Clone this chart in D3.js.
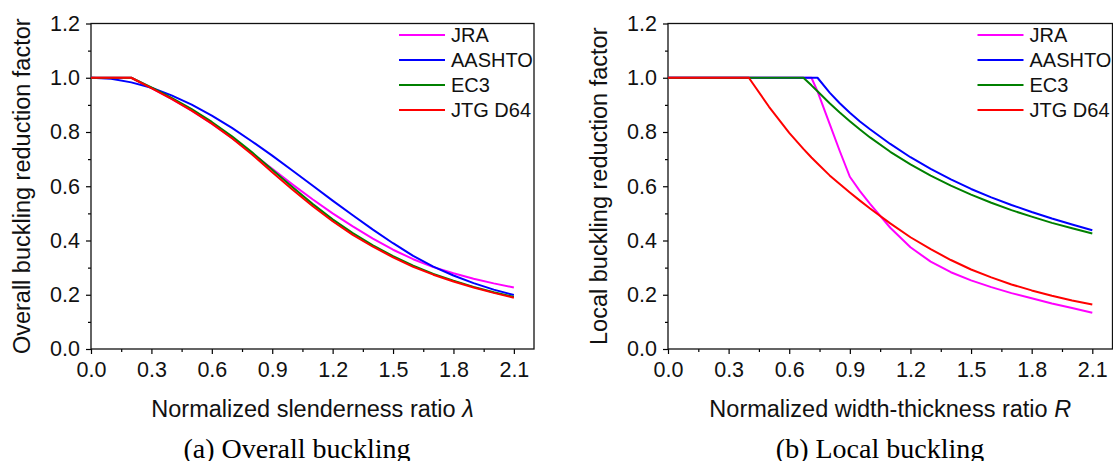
<!DOCTYPE html>
<html>
<head>
<meta charset="utf-8">
<script src="https://cdn.jsdelivr.net/npm/d3@7"></script>
<style>
  html, body { margin: 0; padding: 0; background: #fff; }
  svg { display: block; font-family: "Liberation Sans", Arial, sans-serif; }
</style>
</head>
<body>
<svg id="chart" width="1113" height="461"></svg>
<script>
const seriesNames = ['JRA', 'AASHTO', 'EC3', 'JTG D64'];
const seriesColors = ['#ff00ff', '#0000ff', '#008000', '#ff0000'];

const xTickValues = [0, 0.3, 0.6, 0.9, 1.2, 1.5, 1.8, 2.1];
const yTickValues = [0, 0.2, 0.4, 0.6, 0.8, 1.0, 1.2];

// (a) overall buckling
const lambdaValues = [0, 0.1, 0.2, 0.3, 0.4, 0.5, 0.6, 0.7, 0.8, 0.9, 1.0,
  1.1, 1.2, 1.3, 1.4, 1.5, 1.6, 1.7, 1.8, 1.9, 2.0, 2.1];
const overallJRA = [1, 1, 1, 0.962, 0.922, 0.879, 0.831, 0.778, 0.722, 0.664, 0.607,
  0.552, 0.500, 0.452, 0.407, 0.366, 0.331, 0.302, 0.279, 0.259, 0.242, 0.227];
const overallAASHTO = [1, 0.996, 0.983, 0.963, 0.935, 0.901, 0.860, 0.815, 0.765, 0.713, 0.658,
  0.603, 0.547, 0.493, 0.440, 0.390, 0.343, 0.304, 0.271, 0.243, 0.219, 0.199];
const overallEC3 = [1, 1, 1, 0.964, 0.926, 0.884, 0.837, 0.784, 0.725, 0.661, 0.597,
  0.535, 0.478, 0.427, 0.382, 0.342, 0.307, 0.277, 0.252, 0.229, 0.209, 0.192];
const overallJTG = [1, 1, 1, 0.962, 0.922, 0.879, 0.831, 0.777, 0.717, 0.652, 0.588,
  0.527, 0.471, 0.421, 0.377, 0.338, 0.303, 0.274, 0.249, 0.227, 0.207, 0.189];

// (b) local buckling
const ratioValues = [0, 0.1, 0.2, 0.3, 0.4, 0.5, 0.6, 0.67, 0.71, 0.74, 0.8, 0.85, 0.9, 0.95, 1.0,
  1.1, 1.2, 1.3, 1.4, 1.5, 1.6, 1.7, 1.8, 1.9, 2.0, 2.1];
const localJRA = [1, 1, 1, 1, 1, 1, 1, 1, 1, 0.95, 0.83, 0.73, 0.635, 0.582, 0.535,
  0.447, 0.375, 0.322, 0.283, 0.253, 0.228, 0.206, 0.187, 0.168, 0.151, 0.134];
const localAASHTO = [1, 1, 1, 1, 1, 1, 1, 1, 1, 1, 0.945, 0.906, 0.871, 0.839, 0.810,
  0.756, 0.707, 0.664, 0.625, 0.590, 0.559, 0.531, 0.505, 0.481, 0.459, 0.438];
const localEC3 = [1, 1, 1, 1, 1, 1, 1, 1, 0.972, 0.950, 0.906, 0.872, 0.840, 0.809, 0.780,
  0.727, 0.681, 0.639, 0.602, 0.569, 0.539, 0.512, 0.488, 0.465, 0.445, 0.426];
const localJTG = [1, 1, 1, 1, 1, 0.893, 0.797, 0.738, 0.706, 0.684, 0.640, 0.608, 0.577, 0.547, 0.518,
  0.463, 0.412, 0.368, 0.328, 0.293, 0.264, 0.238, 0.216, 0.196, 0.179, 0.164];

const svg = d3.select('#chart');

function drawPanel(p) {
  const x = d3.scaleLinear().domain([0, 2.2]).range([p.left, p.right]);
  const y = d3.scaleLinear().domain([0, 1.2]).range([p.bottom, p.top]);
  const g = svg.append('g');

  // minor ticks
  g.append('g')
    .attr('transform', `translate(0,${p.bottom})`)
    .call(d3.axisBottom(x).tickValues(d3.range(0.15, 2.2, 0.3)).tickSize(3).tickFormat(''))
    .call(a => a.select('.domain').remove());
  g.append('g')
    .attr('transform', `translate(${p.left},0)`)
    .call(d3.axisLeft(y).tickValues(d3.range(0.1, 1.2, 0.2)).tickSize(3).tickFormat(''))
    .call(a => a.select('.domain').remove());

  // major ticks + labels
  const xAxis = g.append('g')
    .attr('transform', `translate(0,${p.bottom})`)
    .call(d3.axisBottom(x).tickValues(xTickValues).tickSize(5).tickPadding(8).tickFormat(d3.format('.1f')));
  xAxis.select('.domain').remove();
  xAxis.selectAll('text').attr('font-size', 21.5).attr('fill', '#111');

  const yAxis = g.append('g')
    .attr('transform', `translate(${p.left},0)`)
    .call(d3.axisLeft(y).tickValues(yTickValues).tickSize(5).tickPadding(6).tickFormat(d3.format('.1f')));
  yAxis.select('.domain').remove();
  yAxis.selectAll('text').attr('font-size', 21.5).attr('fill', '#111');

  g.selectAll('.tick line').attr('stroke', '#000').attr('stroke-width', 1.2);

  // frame
  g.append('rect')
    .attr('x', p.left).attr('y', p.top)
    .attr('width', p.right - p.left).attr('height', p.bottom - p.top)
    .attr('fill', 'none').attr('stroke', '#111').attr('stroke-width', 1.3);

  // curves
  const line = d3.line()
    .x(d => x(d[0]))
    .y(d => y(d[1]));
  p.series.forEach((vals, i) => {
    g.append('path')
      .datum(p.xs.map((v, j) => [v, vals[j]]))
      .attr('d', line)
      .attr('fill', 'none')
      .attr('stroke', seriesColors[i])
      .attr('stroke-width', 2)
      .attr('stroke-linejoin', 'round');
  });

  // legend
  const legendX = p.right - 135;
  seriesNames.forEach((name, i) => {
    const ly = 35 + i * 25;
    g.append('line')
      .attr('x1', legendX).attr('x2', legendX + 46)
      .attr('y1', ly).attr('y2', ly)
      .attr('stroke', seriesColors[i]).attr('stroke-width', 2);
    g.append('text')
      .attr('x', legendX + 52).attr('y', ly).attr('dy', '0.35em')
      .attr('font-size', 20).attr('fill', '#111')
      .text(name);
  });

  // axis titles
  const xt = g.append('text')
    .attr('x', (p.left + p.right) / 2).attr('y', 417)
    .attr('text-anchor', 'middle').attr('font-size', 23.5).attr('fill', '#111');
  xt.append('tspan').text(p.xTitle + ' ');
  xt.append('tspan').attr('font-style', 'italic').text(p.xSymbol);

  g.append('text')
    .attr('transform', `translate(${p.left - 61},${(p.top + p.bottom) / 2}) rotate(-90)`)
    .attr('text-anchor', 'middle').attr('font-size', 23.5).attr('fill', '#111')
    .text(p.yTitle);

  // caption
  g.append('text')
    .attr('x', p.captionX).attr('y', 458)
    .attr('text-anchor', 'middle')
    .attr('font-family', '"Liberation Serif", "Times New Roman", serif')
    .attr('font-size', 28).attr('fill', '#000')
    .text(p.caption);
}

drawPanel({
  left: 91, right: 534, top: 23.5, bottom: 349,
  xs: lambdaValues,
  series: [overallJRA, overallAASHTO, overallEC3, overallJTG],
  xTitle: 'Normalized slenderness ratio', xSymbol: 'λ',
  yTitle: 'Overall buckling reduction factor',
  caption: '(a) Overall buckling', captionX: 297
});

drawPanel({
  left: 668, right: 1112.5, top: 23.5, bottom: 349,
  xs: ratioValues,
  series: [localJRA, localAASHTO, localEC3, localJTG],
  xTitle: 'Normalized width-thickness ratio', xSymbol: 'R',
  yTitle: 'Local buckling reduction factor',
  caption: '(b) Local buckling', captionX: 880
});
</script>
</body>
</html>
